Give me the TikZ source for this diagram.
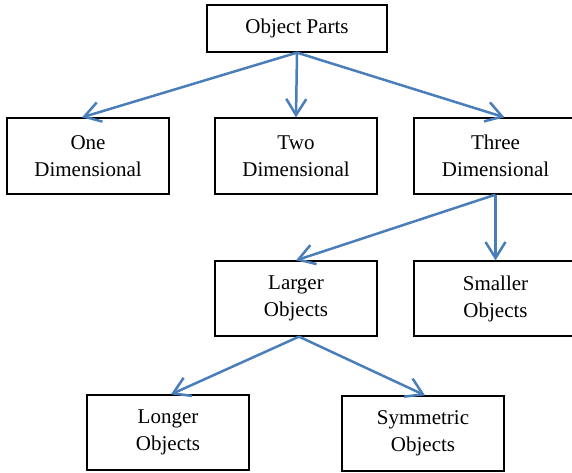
\documentclass[tikz,border=0pt]{standalone}
\usepackage{fontspec}
\setmainfont{Liberation Serif}
\usetikzlibrary{arrows.meta}
\definecolor{linkblue}{RGB}{74,126,187}
\begin{document}
\begin{tikzpicture}[x=1pt,y=1pt,
  box/.style={draw=black, line width=1.3pt, rectangle, inner sep=0pt, align=center,
    font=\fontsize{21}{27}\selectfont},
  link/.style={draw=linkblue, line width=2.5pt, -{Straight Barb[length=16pt,width=20pt,line width=2.5pt]}}]
\useasboundingbox (0,0) rectangle (572,472);
\fill[white] (0,0) rectangle (572,472);
\node[box, minimum width=180pt, minimum height=47pt] (obj) at (297,443.5) {Object Parts};
\node[box, minimum width=162pt, minimum height=76pt] (one) at (88,316) {One\\Dimensional};
\node[box, minimum width=162pt, minimum height=76pt] (two) at (296,316) {Two\\Dimensional};
\node[box, minimum width=163pt, minimum height=76pt] (three) at (495.5,316) {Three\\Dimensional};
\node[box, minimum width=162pt, minimum height=75pt] (larger) at (296,173.5) {Larger\\Objects};
\node[box, minimum width=163pt, minimum height=75pt] (smaller) at (495.5,173.5) {Smaller\\Objects};
\node[box, minimum width=162pt, minimum height=75pt] (longer) at (168,39.5) {Longer\\Objects};
\node[box, minimum width=162pt, minimum height=75pt] (sym) at (423,38.5) {Symmetric\\Objects};
\draw[link] (obj.south) -- ([xshift=-6pt]one.north);
\draw[link] (obj.south) -- (two.north);
\draw[link] (obj.south) -- ([xshift=9pt]three.north);
\draw[link] (three.south) -- (larger.north);
\draw[link] (three.south) -- (smaller.north);
\draw[link] ([xshift=3pt]larger.south) -- ([xshift=3pt]longer.north);
\draw[link] ([xshift=3pt]larger.south) -- ([xshift=2pt]sym.north);
\end{tikzpicture}
\end{document}
